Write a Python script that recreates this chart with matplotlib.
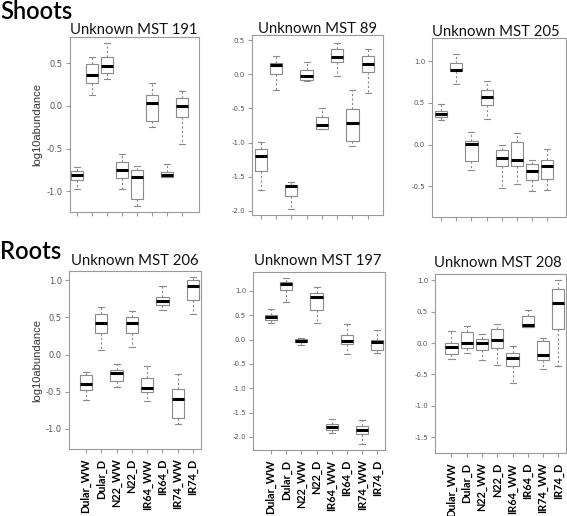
import matplotlib
matplotlib.use("Agg")
import matplotlib.pyplot as plt

plt.rcParams['axes.unicode_minus'] = False

# ---------------- data ----------------
groups = ["Dular_WW", "Dular_D", "N22_WW", "N22_D", "IR64_WW", "IR64_D", "IR74_WW", "IR74_D"]
titles = ["Unknown MST 191", "Unknown MST 89", "Unknown MST 205",
          "Unknown MST 206", "Unknown MST 197", "Unknown MST 208"]
# each row: [whisker low, Q1, median, Q3, whisker high]
mst191 = [[-0.97, -0.87, -0.81, -0.77, -0.72],
          [0.13, 0.27, 0.36, 0.49, 0.57],
          [0.32, 0.39, 0.47, 0.58, 0.74],
          [-0.97, -0.85, -0.75, -0.66, -0.57],
          [-1.17, -1.09, -0.84, -0.75, -0.70],
          [-0.25, -0.18, 0.035, 0.13, 0.27],
          [-0.84, -0.84, -0.81, -0.78, -0.68],
          [-0.45, -0.13, 0.0, 0.09, 0.18]]
mst89 = [[-1.69, -1.42, -1.20, -1.10, -0.985],
         [-0.23, 0.0, 0.14, 0.16, 0.27],
         [-1.97, -1.78, -1.64, -1.62, -1.57],
         [-0.10, -0.09, -0.03, 0.07, 0.18],
         [-0.80, -0.80, -0.74, -0.62, -0.50],
         [-0.02, 0.18, 0.26, 0.37, 0.46],
         [-1.05, -0.97, -0.71, -0.51, -0.23],
         [-0.28, 0.03, 0.15, 0.27, 0.37]]
mst205 = [[0.29, 0.33, 0.37, 0.40, 0.49],
          [0.73, 0.88, 0.90, 0.98, 1.09],
          [-0.30, -0.20, 0.01, 0.045, 0.15],
          [0.31, 0.47, 0.57, 0.66, 0.76],
          [-0.52, -0.26, -0.16, -0.06, 0.0],
          [-0.47, -0.26, -0.18, 0.03, 0.14],
          [-0.56, -0.42, -0.32, -0.23, -0.19],
          [-0.54, -0.41, -0.26, -0.18, -0.05]]
mst206 = [[-0.61, -0.47, -0.40, -0.28, -0.23],
          [0.06, 0.29, 0.43, 0.55, 0.64],
          [-0.44, -0.36, -0.25, -0.21, -0.12],
          [0.10, 0.29, 0.42, 0.51, 0.59],
          [-0.63, -0.50, -0.45, -0.32, -0.15],
          [0.60, 0.67, 0.72, 0.78, 0.92],
          [-0.94, -0.85, -0.60, -0.46, -0.26],
          [0.54, 0.74, 0.92, 1.00, 1.04]]
mst197 = [[0.34, 0.40, 0.46, 0.51, 0.63],
          [0.77, 1.01, 1.14, 1.18, 1.27],
          [-0.11, -0.05, -0.02, 0.01, 0.04],
          [0.34, 0.60, 0.87, 0.95, 1.08],
          [-1.93, -1.86, -1.80, -1.73, -1.63],
          [-0.30, -0.10, -0.02, 0.09, 0.32],
          [-2.14, -1.94, -1.86, -1.78, -1.66],
          [-0.28, -0.22, -0.05, -0.01, 0.19]]
mst208 = [[-0.25, -0.18, -0.07, 0.0, 0.20],
          [-0.15, -0.085, 0.0, 0.18, 0.28],
          [-0.27, -0.11, 0.0, 0.07, 0.15],
          [-0.35, -0.085, 0.05, 0.23, 0.31],
          [-0.63, -0.36, -0.245, -0.15, -0.04],
          [0.26, 0.26, 0.29, 0.43, 0.52],
          [-0.41, -0.27, -0.19, 0.03, 0.085],
          [-0.36, 0.23, 0.64, 0.86, 1.0]]
yticks191 = [-1.0, -0.5, 0.0, 0.5]
yticks89 = [-2.0, -1.5, -1.0, -0.5, 0.0, 0.5]
yticks205 = [-0.5, 0.0, 0.5, 1.0]
yticks206 = [-1.0, -0.5, 0.0, 0.5, 1.0]
yticks197 = [-2.0, -1.5, -1.0, -0.5, 0.0, 0.5, 1.0]
yticks208 = [-1.5, -1.0, -0.5, 0.0, 0.5, 1.0]

panels = [mst191, mst89, mst205, mst206, mst197, mst208]
ticks = [yticks191, yticks89, yticks205, yticks206, yticks197, yticks208]

# ---------------- layout (pixels) ----------------
W, H = 567, 516
boxes_px = [(70, 199, 37, 212), (252, 383, 35, 215), (432, 566, 38, 217),
            (69, 201, 271, 449), (253, 385, 272, 450), (435, 566, 274, 453)]
ylims = [(-1.246, 0.81), (-2.06, 0.576), (-0.87, 1.28),
         (-1.27, 1.125), (-2.27, 1.39), (-1.75, 1.10)]
xlims = [(0.54, 9.13), (0.43, 9.0), (0.39, 9.25),
         (-0.11, 8.52), (-0.18, 8.5), (-0.08, 8.5)]
title_base = [34, 33, 36, 265, 265, 267]
title_cx = [134, 317, 496, 135, 318, 498]

fig = plt.figure(figsize=(W / 100, H / 100), dpi=100)
fig.patch.set_facecolor("white")

title_font = "Lato"
gray_frame = "#9a9a9a"
gray_box = "#8a8a8a"

for i, (data, yt) in enumerate(zip(panels, ticks)):
    x0, x1, y0, y1 = boxes_px[i]
    ax = fig.add_axes([x0 / W, 1 - y1 / H, (x1 - x0) / W, (y1 - y0) / H])
    stats = []
    for lab, row in zip(groups, data):
        lo, q1, med, q3, hi = row
        stats.append(dict(label=lab, whislo=lo, q1=q1, med=med, q3=q3, whishi=hi, fliers=[]))
    ax.bxp(stats, positions=range(1, len(groups) + 1), widths=0.8, showfliers=False,
           patch_artist=True,
           boxprops=dict(facecolor="white", edgecolor=gray_box, linewidth=0.8),
           whiskerprops=dict(color=gray_box, linewidth=0.8, linestyle=(0, (2, 2))),
           capprops=dict(color=gray_box, linewidth=0.8),
           medianprops=dict(color="black", linewidth=2.2, solid_capstyle="butt"),
           capwidths=0.4)
    ax.set_xlim(*xlims[i])
    ax.set_ylim(*ylims[i])
    for s in ax.spines.values():
        s.set_color(gray_frame)
        s.set_linewidth(0.8)
    ax.set_yticks(yt)
    ax.set_yticklabels([f"{v:.1f}" for v in yt])
    fs_tick = 6 if i in (0, 3) else 5
    ax.tick_params(axis="y", colors=gray_frame, labelcolor="#555555", labelsize=fs_tick,
                   length=3, width=0.8, pad=2)
    ax.tick_params(axis="x", colors=gray_frame, length=3, width=0.8)
    ax.set_xticks(range(1, len(groups) + 1))
    if i >= 3:
        ax.set_xticklabels(groups, rotation=90, fontsize=7.8, fontweight="bold",
                           family=title_font, color="black")
        ax.tick_params(axis="x", labelcolor="black", pad=4)
    else:
        ax.set_xticklabels([])
    fig.text(title_cx[i] / W, 1 - title_base[i] / H, titles[i], ha="center", va="baseline",
             fontsize=10.7, family=title_font, color="#111111")

# y labels
fig.text(37 / W, 1 - 124 / H, "log10abundance", rotation=90, ha="center", va="center",
         fontsize=8, family="Liberation Sans", color="#333333")
fig.text(37 / W, 1 - 360 / H, "log10abundance", rotation=90, ha="center", va="center",
         fontsize=8, family="Liberation Sans", color="#333333")

# row headers
fig.text(0 / W, 1 - 19 / H, "Shoots", ha="left", va="baseline", fontsize=17,
         family=title_font, fontweight="semibold", color="black")
fig.text(0 / W, 1 - 259 / H, "Roots", ha="left", va="baseline", fontsize=17,
         family=title_font, fontweight="semibold", color="black")

fig.savefig("out.png", dpi=100)
